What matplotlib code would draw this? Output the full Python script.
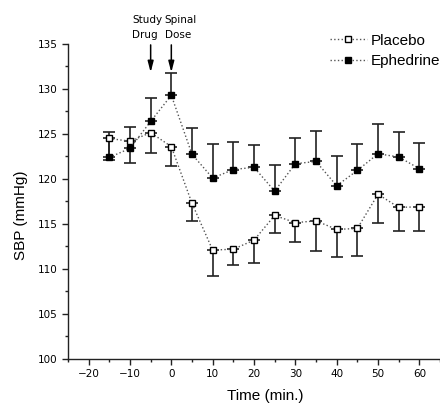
import matplotlib
matplotlib.use("Agg")
import matplotlib.pyplot as plt
import numpy as np

plt.rcParams['font.family'] = ['Liberation Sans', 'DejaVu Sans']

time = [-15, -10, -5, 0, 5, 10, 15, 20, 25, 30, 35, 40, 45, 50, 55, 60]
placebo = [124.5, 124.2, 125.15, 123.6, 117.3, 112.1, 112.2, 113.2, 115.95, 115.15, 115.35, 114.4, 114.5, 118.3, 116.85, 116.9]
placebo_err = [2.4, 2.4, 2.3, 2.15, 2.0, 2.85, 1.8, 2.55, 2.0, 2.2, 3.3, 3.1, 3.1, 3.15, 2.6, 2.7]
ephedrine = [122.4, 123.4, 126.4, 129.3, 122.75, 120.1, 121.05, 121.3, 118.65, 121.7, 121.95, 119.25, 120.95, 122.8, 122.45, 121.15]
ephedrine_err = [2.8, 2.4, 2.6, 2.5, 2.9, 3.8, 3.1, 2.5, 2.9, 2.9, 3.4, 3.3, 2.9, 3.3, 2.8, 2.8]

event_times = [-5, 0]
event_labels = [('Study', 'Drug'), ('Spinal', 'Dose')]

fig = plt.figure(figsize=(4.4, 4.04), dpi=100)
ax = fig.add_axes([0.1545, 0.1114, 0.8455, 0.7797])

zeros = [0] * len(time)
ax.errorbar(time, placebo, yerr=[placebo_err, zeros], fmt='none', ecolor='#222222',
            elinewidth=1.2, capsize=4.3, capthick=1.2, zorder=2)
ax.errorbar(time, ephedrine, yerr=[zeros, ephedrine_err], fmt='none', ecolor='#222222',
            elinewidth=1.2, capsize=4.3, capthick=1.2, zorder=2)

ax.plot(time, placebo, linestyle=':', color='#555555', linewidth=1.0, marker='s',
        markersize=4.6, markerfacecolor='white', markeredgecolor='black',
        markeredgewidth=1.0, label='Placebo', zorder=3)
ax.plot(time, ephedrine, linestyle=':', color='#555555', linewidth=1.0, marker='s',
        markersize=4.6, markerfacecolor='black', markeredgecolor='black',
        label='Ephedrine', zorder=3)

ax.set_xlim(-25, 65)
ax.set_ylim(100, 135)
ax.set_xticks(np.arange(-20, 61, 10))
ax.set_xticks(np.arange(-25, 66, 10), minor=True)
ax.set_yticks(np.arange(100, 136, 5))
ax.set_yticks(np.arange(102.5, 135, 5), minor=True)

for s in ['top', 'right']:
    ax.spines[s].set_visible(False)
for s in ['left', 'bottom']:
    ax.spines[s].set_linewidth(1.0)
    ax.spines[s].set_color('#222222')

ax.tick_params(which='major', direction='out', length=4.5, width=1.0, pad=3, color='#222222')
ax.tick_params(which='minor', direction='out', length=2.4, width=1.0, color='#222222')
for lab in ax.get_xticklabels() + ax.get_yticklabels():
    lab.set_fontfamily('DejaVu Sans')
    lab.set_fontsize(7.5)

ax.set_xlabel('Time (min.)', fontsize=11)
ax.set_ylabel('SBP (mmHg)', fontsize=11)
ax.xaxis.set_label_coords(0.53, -0.095)
ax.yaxis.set_label_coords(-0.107, 0.457)

leg = ax.legend(loc='upper left', bbox_to_anchor=(0.704, 1.033), frameon=False,
                fontsize=11, handlelength=2.4, handletextpad=0.26, labelspacing=0.43,
                borderaxespad=0.0, borderpad=0.0)

text_offsets = [-4.4, -1.6]
for t, (l1, l2), off in zip(event_times, event_labels, text_offsets):
    ax.annotate('', xy=(t, 131.85), xytext=(t, 134.9), annotation_clip=False,
                arrowprops=dict(arrowstyle='-|>,head_length=0.65,head_width=0.17',
                                color='black', lw=1.1, shrinkA=0, shrinkB=0))
    ax.text(t + off, 137.35, l1, fontsize=7.5, family='DejaVu Sans', ha='left',
            va='baseline', clip_on=False)
    ax.text(t + off, 135.65, l2, fontsize=7.5, family='DejaVu Sans', ha='left',
            va='baseline', clip_on=False)

fig.savefig('out.png', dpi=100)
